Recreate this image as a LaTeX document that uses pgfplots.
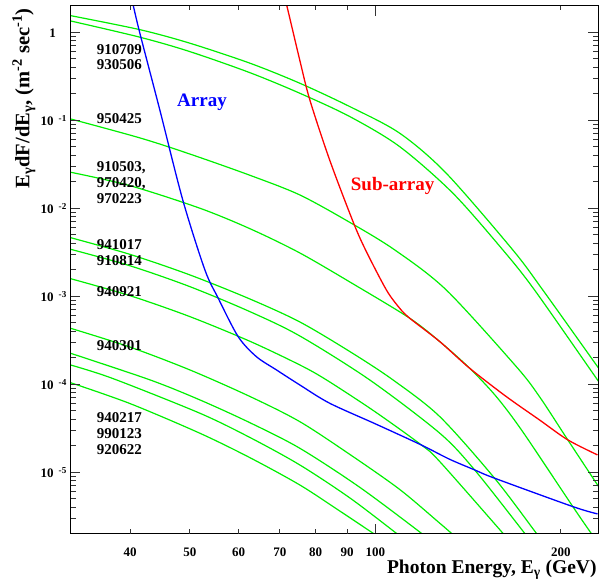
\documentclass[border=0pt]{standalone}
\usepackage{fontspec}
\setmainfont{Liberation Serif}
\usepackage{pgfplots}
\pgfplotsset{compat=1.18}
\definecolor{rgreen}{RGB}{0,240,0}
\definecolor{rblue}{RGB}{0,0,255}
\definecolor{rred}{RGB}{255,0,0}
\newcommand{\lbl}{\fontsize{15}{16}\selectfont\bfseries}
\newcommand{\curvelbl}{\fontsize{19}{19}\selectfont\bfseries}
\newcommand{\ex}[1]{\textbf{10}\kern5pt\textsuperscript{\textbf{#1}}}

\begin{document}
\begin{tikzpicture}
\begin{axis}[
  width=528pt, height=528pt, scale only axis,
  xmode=log, ymode=log,
  xmin=32, xmax=230, ymin=2e-6, ymax=2,
  axis on top,
  xtick={100}, xticklabels={100},
  extra x ticks={40,50,60,70,80,90,200},
  extra x tick labels={40,50,60,70,80,90,200},
  extra x tick style={major tick length=4.5pt},
  minor xtick={},
  ytick={1e-5,1e-4,1e-3,1e-2,1e-1,1},
  yticklabels={\ex{-5},\ex{-4},\ex{-3},\ex{-2},\ex{-1},\textbf{1}\kern11pt},
  minor ytick={3e-6,4e-6,5e-6,6e-6,7e-6,8e-6,9e-6,
    2e-5,3e-5,4e-5,5e-5,6e-5,7e-5,8e-5,9e-5,
    2e-4,3e-4,4e-4,5e-4,6e-4,7e-4,8e-4,9e-4,
    2e-3,3e-3,4e-3,5e-3,6e-3,7e-3,8e-3,9e-3,
    2e-2,3e-2,4e-2,5e-2,6e-2,7e-2,8e-2,9e-2,
    0.2,0.3,0.4,0.5,0.6,0.7,0.8,0.9},
  major tick length=10pt, minor tick length=5.5pt,
  tick align=inside,
  tick style={black!80, line width=1.1pt},
  axis line style={line width=1.5pt},
  tick label style={font=\fontsize{13}{13}\selectfont\bfseries, inner sep=0pt},
  xticklabel style={anchor=base, yshift=-22.4pt},
  yticklabel style={anchor=base east, xshift=-3.3pt, yshift=-5.4pt},
]
% green spectra, top to bottom at the left edge
\addplot[rgreen, smooth, line width=1.2pt] coordinates {(32.0,1.544) (41.5,1.068) (50.0,0.750) (62.6,0.4443) (75.4,0.2633) (90.9,0.1427) (109.5,0.0712) (130.3,0.02499) (167.1,0.003358) (186.9,0.001179) (229.3,1.585e-4) (231.3,1.47e-4)};
\addplot[rgreen, smooth, line width=1.2pt] coordinates {(32.0,1.344) (41.5,0.877) (50.0,0.602) (62.6,0.3465) (75.4,0.2026) (90.9,0.1099) (109.5,0.0501) (133.6,0.01481) (161.0,0.003358) (181.2,0.001179) (229.3,1.119e-4) (231.3,1.038e-4)};
\addplot[rgreen, smooth, line width=1.2pt] coordinates {(32.0,0.1035) (41.5,0.0629) (50.0,0.04128) (62.6,0.02365) (75.4,0.01416) (90.9,6.9e-3) (107.5,0.003358) (130.3,0.001179) (169.3,1.585e-4) (184.6,7.23e-5) (205.2,2.33e-5) (229.3,7.18e-6) (231.3,6.63e-6)};
\addplot[rgreen, smooth, line width=1.2pt] coordinates {(32.0,0.02566) (40.0,0.01802) (51.9,0.01) (62.6,5.848e-3) (75.4,0.003105) (92.6,1.344e-3) (113.7,5.62e-4) (127.2,3.05e-4) (142.2,1.52e-4) (157.1,7.23e-5) (173.5,2.87e-5) (209.1,4.065e-6) (223.9,2.026e-6) (231.3,1.47e-6)};
\addplot[rgreen, smooth, line width=1.2pt] coordinates {(32.0,4.634e-3) (40.0,2.985e-3) (50.0,1.746e-3) (62.6,9.29e-4) (75.4,5.105e-4) (90.9,2.35e-4) (106.8,1.119e-4) (127.2,4.283e-5) (156.1,8.55e-6) (182.4,2.03e-6) (188.8,1.47e-6)};
\addplot[rgreen, smooth, line width=1.2pt] coordinates {(32.0,3.42e-3) (40.0,2.215e-3) (50.0,1.285e-3) (62.6,6.67e-4) (75.4,3.538e-4) (97.9,1.119e-4) (127.2,2.775e-5) (144.9,1.062e-5) (174.6,2.03e-6) (181.2,1.45e-6)};
\addplot[rgreen, smooth, line width=1.2pt] coordinates {(32.0,1.585e-3) (40.0,1.013e-3) (50.0,5.865e-4) (62.6,3.073e-4) (75.4,1.657e-4) (83.3,1.119e-4) (99.7,4.91e-5) (118.7,2.043e-5) (127.2,1.32e-5) (161.0,2.03e-6) (167.5,1.48e-6)};
\addplot[rgreen, smooth, line width=1.2pt] coordinates {(32.0,4.329e-4) (40.0,2.64e-4) (50.0,1.454e-4) (62.6,7.25e-5) (75.4,3.758e-5) (90.9,1.593e-5) (109.5,6.375e-6) (127.2,2.633e-6) (132.8,2.03e-6) (138.0,1.614e-6)};
\addplot[rgreen, smooth, line width=1.2pt] coordinates {(32.0,2.251e-4) (43.1,1.119e-4) (51.9,6.637e-5) (62.6,3.65e-5) (75.4,1.874e-5) (94.3,6.75e-6) (118.7,2.03e-6) (123.4,1.614e-6)};
\addplot[rgreen, smooth, line width=1.2pt] coordinates {(32.0,1.657e-4) (37.5,1.161e-4) (51.9,4.683e-5) (62.6,2.479e-5) (75.4,1.211e-5) (90.9,5.105e-6) (108.1,2.03e-6) (112.4,1.637e-6)};
\addplot[rgreen, smooth, line width=1.2pt] coordinates {(32.0,1.043e-4) (40.0,6.02e-5) (51.9,2.775e-5) (62.6,1.462e-5) (75.4,7.17e-6) (87.5,3.634e-6) (99.1,2.03e-6) (102.8,1.70e-6)};
% sensitivity curves
\addplot[rblue, smooth, line width=1.3pt] coordinates {(40.26,2.39) (41.4,1.035) (44.7,0.131) (48.7,0.01243) (52.9,1.99e-3) (55.6,9.49e-4) (59.9,3.474e-4) (64.1,2.06e-4) (69.1,1.454e-4) (75.4,9.82e-5) (84.3,6.08e-5) (100.4,3.50e-5) (118.7,2.04e-5) (131.9,1.405e-5) (144.9,1.062e-5) (156.1,8.55e-6) (209.1,4.065e-6) (229.3,3.358e-6)};
\addplot[rred, smooth, line width=1.3pt] coordinates {(71.3,2.39) (71.8,2.04) (75.4,0.4843) (78.3,0.1701) (84.3,0.0354) (92.0,7.04e-3) (96.4,3.358e-3) (104.2,1.179e-3) (109.5,7.31e-4) (113.7,5.62e-4) (127.2,3.05e-4) (142.2,1.52e-4) (163.1,7.23e-5) (184.6,3.93e-5) (205.2,2.33e-5) (229.3,1.572e-5)};

\begin{scope}[every node/.style={anchor=base west, inner sep=0pt, font=\lbl}]
\node at (rel axis cs:0.05,0.9076) {910709};
\node at (rel axis cs:0.05,0.8792) {930506};
\node at (rel axis cs:0.05,0.7778) {950425};
\node at (rel axis cs:0.05,0.6869) {910503,};
\node at (rel axis cs:0.05,0.6566) {970420,};
\node at (rel axis cs:0.05,0.6263) {970223};
\node at (rel axis cs:0.05,0.5392) {941017};
\node at (rel axis cs:0.05,0.5089) {910814};
\node at (rel axis cs:0.05,0.4483) {940921};
\node at (rel axis cs:0.05,0.3479) {940301};
\node at (rel axis cs:0.05,0.2097) {940217};
\node at (rel axis cs:0.05,0.1794) {990123};
\node at (rel axis cs:0.05,0.1491) {920622};
\end{scope}
\node[anchor=base west, inner sep=0pt, font=\curvelbl, text=rblue] at (rel axis cs:0.2021,0.810) {Array};
\node[anchor=base west, inner sep=0pt, font=\curvelbl, text=rred] at (rel axis cs:0.5311,0.6496) {Sub-array};
\end{axis}
\node[anchor=base east, inner sep=0pt, font=\fontsize{19.5}{19.5}\selectfont\bfseries] at (526.4pt,-39.8pt) {Photon Energy, E\textsubscript{γ} (GeV)};
\node[rotate=90, anchor=base east, inner sep=0pt, font=\fontsize{20.5}{20.5}\selectfont\bfseries] at (-41pt,525.4pt) {E\textsubscript{γ}dF/dE\textsubscript{γ}, (m\textsuperscript{-2} sec\textsuperscript{-1})};
\pgfresetboundingbox
\path (-70.3pt,-52.3pt) rectangle (528.7pt,533.7pt);
\end{tikzpicture}
\end{document}
